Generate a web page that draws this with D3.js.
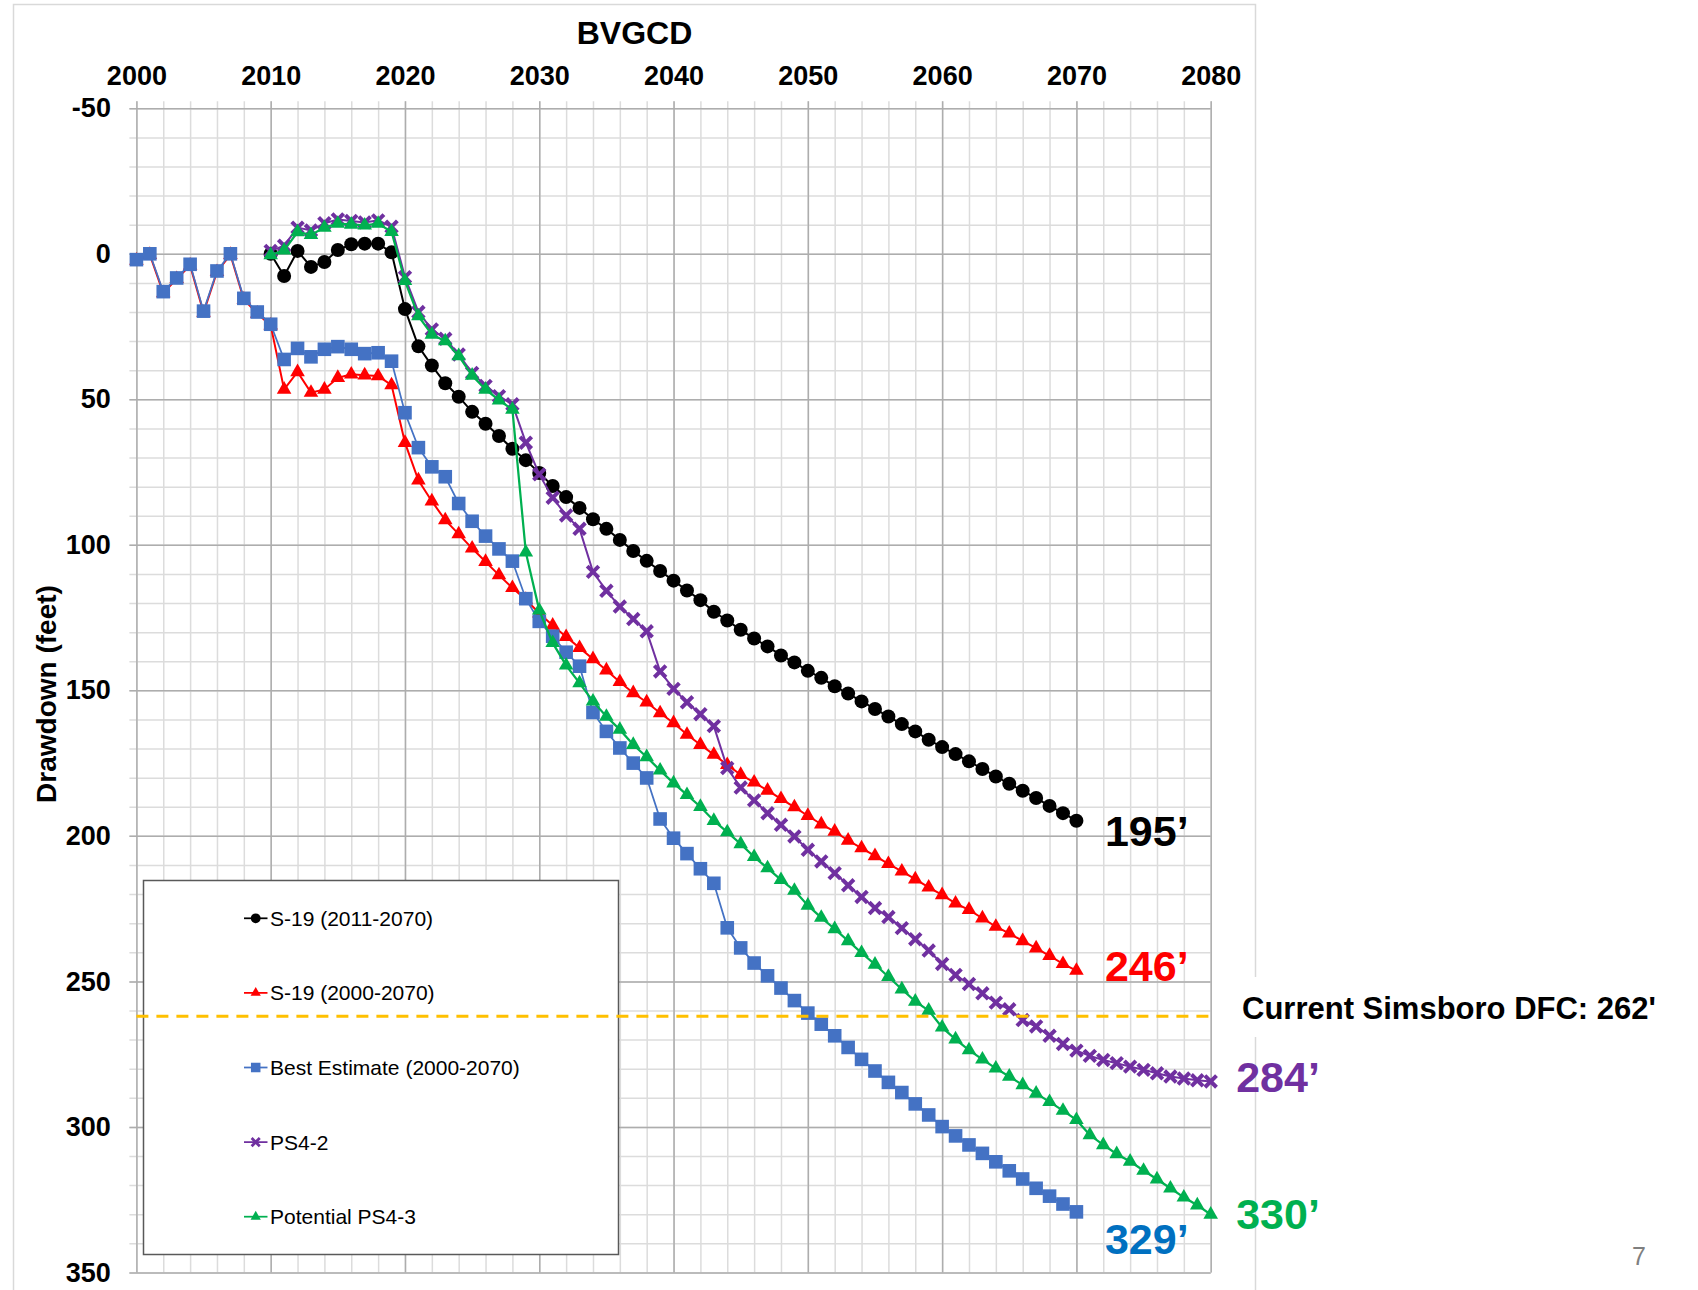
<!DOCTYPE html>
<html>
<head>
<meta charset="utf-8">
<script src="https://cdn.jsdelivr.net/npm/d3@7"></script>
<style>
  body { margin: 0; background: #fff; }
  text { font-family: "Liberation Sans", Arial, sans-serif; }
</style>
</head>
<body>
<div id="chart"></div>
<script>
const margin = { top: 108.3, left: 136.4 };
const width = 1074.3;
const height = 1164.1;

// axis ticks
const xTicks = [2000, 2010, 2020, 2030, 2040, 2050, 2060, 2070, 2080];
const yTicks = [-50, 0, 50, 100, 150, 200, 250, 300, 350];
const dfc = 262;

// drawdown (feet), one value per year
const s19Start = 2010; // S-19 (2011-2070)
const s19Values = [
  0, 7.6, -1.0, 4.5, 2.8, -1.3, -3.3, -3.5, -3.5, -0.5,
  19.0, 31.8, 38.4, 44.5, 49.1, 54.3, 58.4, 62.6, 67.0, 70.9,
  75.3, 79.8, 83.6, 87.3, 91.2, 94.5, 98.3, 102.1, 105.5, 109.0,
  112.3, 115.7, 119.0, 123.0, 126.0, 129.2, 132.2, 134.9, 138.0, 140.4,
  143.3, 145.7, 148.6, 151.1, 153.8, 156.4, 159.0, 161.6, 164.1, 167.0,
  169.5, 171.9, 174.4, 177.0, 179.6, 182.1, 184.5, 187.0, 189.7, 192.2,
  194.8
];

const s19LongStart = 2000; // S-19 (2000-2070)
const s19LongValues = [
  2.3, 0.3, 13.5, 8.6, 4.0, 20.2, 6.2, 0.3, 15.7, 20.5, 24.6,
  46.6, 40.6, 47.7, 46.6, 42.6, 41.4, 41.7, 42.0, 45.1,
  64.9, 77.8, 85.0, 91.5, 96.3, 101.2, 105.8, 110.4, 114.8, 118.8,
  123.5, 127.7, 131.6, 135.4, 139.2, 143.1, 147.1, 150.9, 154.1, 157.8,
  161.2, 165.2, 168.7, 172.1, 175.6, 179.0, 181.6, 184.4, 187.3, 190.1,
  193.1, 196.0, 198.5, 201.6, 204.2, 206.9, 209.6, 212.2, 214.9, 217.7,
  220.3, 223.2, 225.4, 228.3, 231.2, 233.5, 236.1, 238.6, 241.2, 244.0,
  246.3
];

const bestStart = 2000; // Best Estimate (2000-2070)
const bestValues = [
  2.0, 0, 13.0, 8.3, 3.6, 19.7, 5.9, 0, 15.3, 20.0, 24.2,
  36.3, 32.5, 35.4, 32.8, 31.9, 32.8, 34.3, 34.0, 36.9,
  54.6, 66.6, 73.2, 76.6, 85.8, 91.9, 97.0, 101.4, 105.6, 118.5,
  126.3, 131.4, 136.9, 141.7, 157.6, 164.1, 169.8, 175.0, 180.1, 194.2,
  200.8, 206.1, 211.3, 216.3, 231.6, 238.5, 243.7, 248.1, 252.3, 256.6,
  260.9, 264.7, 268.7, 272.7, 276.8, 280.8, 284.7, 288.2, 292.1, 295.9,
  299.9, 303.1, 306.2, 309.1, 312.0, 315.1, 317.9, 321.1, 323.8, 326.5,
  329.2
];

const ps42Start = 2010; // PS4-2
const ps42Values = [
  -1.0, -2.8, -9.0, -8.0, -10.5, -11.8, -11.3, -10.8, -11.5, -9.3,
  8.0, 20.0, 26.0, 29.2, 34.6, 40.9, 45.4, 48.9, 51.7, 64.9,
  75.8, 83.8, 89.9, 94.5, 109.3, 115.8, 121.2, 125.5, 129.7, 143.5,
  149.5, 154.1, 158.2, 162.3, 176.7, 183.4, 187.8, 192.2, 196.2, 200.2,
  204.8, 208.8, 212.8, 217.0, 221.0, 224.8, 227.9, 231.7, 235.5, 239.4,
  244.0, 247.8, 250.9, 254.1, 257.3, 259.6, 263.3, 265.5, 268.7, 271.5,
  273.8, 275.6, 277.0, 278.1, 279.3, 280.4, 281.6, 282.7, 283.4, 284.0,
  284.4
];

const ps43Start = 2010; // Potential PS4-3
const ps43Values = [
  0.4, -1.2, -7.5, -6.5, -9.0, -10.4, -10.1, -9.8, -10.4, -7.6,
  9.3, 21.4, 27.7, 30.0, 35.1, 41.8, 46.6, 50.3, 53.5, 102.6,
  122.5, 133.7, 141.4, 147.5, 153.8, 159.0, 163.5, 168.7, 172.9, 177.5,
  181.9, 185.9, 190.0, 194.8, 198.7, 202.8, 207.2, 211.1, 215.1, 218.8,
  223.9, 228.1, 232.0, 236.1, 240.2, 244.2, 248.4, 252.7, 256.9, 260.0,
  265.8, 269.9, 273.6, 276.8, 279.9, 282.7, 285.6, 288.5, 291.4, 294.4,
  297.6, 302.8, 306.2, 309.3, 311.9, 315.0, 318.0, 321.1, 324.2, 326.9,
  330.1
];

// labels at the end of each series, same order as the series
const endLabels = ['195’', '246’', '329’', '284’', '330’'];

const toPoints = (start, values) => values.map((v, i) => ({ year: start + i, value: v }));

const series = [
  { name: 'S-19 (2011-2070)', color: '#000000', marker: 'circle', width: 2, data: toPoints(s19Start, s19Values) },
  { name: 'S-19 (2000-2070)', color: '#FF0000', marker: 'triangle', width: 2, data: toPoints(s19LongStart, s19LongValues) },
  { name: 'Best Estimate (2000-2070)', color: '#4472C4', marker: 'square', width: 1.75, data: toPoints(bestStart, bestValues) },
  { name: 'PS4-2', color: '#7030A0', marker: 'x', width: 2, data: toPoints(ps42Start, ps42Values) },
  { name: 'Potential PS4-3', color: '#00B050', marker: 'triangle', width: 2.25, data: toPoints(ps43Start, ps43Values) }
];

const svg = d3.select('#chart')
  .append('svg')
  .attr('width', 1698)
  .attr('height', 1290);

// chart area frame
svg.append('rect')
  .attr('x', 13.5).attr('y', 4.5)
  .attr('width', 1242).attr('height', 1300)
  .attr('fill', 'none')
  .attr('stroke', '#D9D9D9')
  .attr('stroke-width', 1.5);

const x = d3.scaleLinear().domain([2000, 2080]).range([margin.left, margin.left + width]);
const y = d3.scaleLinear().domain([-50, 350]).range([margin.top, margin.top + height]);

// minor + major gridlines, sticking out 7px as tick marks
const grid = (ticksX, ticksY, color) => {
  svg.append('g')
    .attr('transform', `translate(0, ${margin.top - 7})`)
    .call(d3.axisTop(x).tickValues(ticksX).tickSize(-(height + 7)).tickFormat(''))
    .call(g => g.select('.domain').remove())
    .selectAll('line').attr('stroke', color).attr('stroke-width', 1.5);
  svg.append('g')
    .attr('transform', `translate(${margin.left - 7}, 0)`)
    .call(d3.axisLeft(y).tickValues(ticksY).tickSize(-(width + 7)).tickFormat(''))
    .call(g => g.select('.domain').remove())
    .selectAll('line').attr('stroke', color).attr('stroke-width', 1.5);
};
grid(d3.range(2000, 2081, 2), d3.range(-50, 351, 10), '#DCDCDC');
grid(xTicks, yTicks, '#ADADAD');

// tick labels
svg.append('g')
  .attr('transform', `translate(0, ${margin.top - 7})`)
  .call(d3.axisTop(x).tickValues(xTicks).tickSize(0).tickPadding(16).tickFormat(d => String(d)))
  .call(g => g.select('.domain').remove())
  .selectAll('text')
  .style('font-family', '"Liberation Sans", Arial, sans-serif')
  .style('font-size', '27px')
  .style('font-weight', 'bold')
  .attr('fill', '#000');

svg.append('g')
  .attr('transform', `translate(${margin.left - 7}, 0)`)
  .call(d3.axisLeft(y).tickValues(yTicks).tickSize(0).tickPadding(18.5).tickFormat(d => String(d)))
  .call(g => g.select('.domain').remove())
  .selectAll('text')
  .style('font-family', '"Liberation Sans", Arial, sans-serif')
  .style('font-size', '27px')
  .style('font-weight', 'bold')
  .attr('fill', '#000');

svg.append('text')
  .attr('x', 634.5).attr('y', 44)
  .attr('text-anchor', 'middle')
  .style('font-size', '32px').style('font-weight', 'bold')
  .text('BVGCD');

svg.append('text')
  .attr('transform', 'translate(56, 694) rotate(-90)')
  .attr('text-anchor', 'middle')
  .style('font-size', '28px').style('font-weight', 'bold')
  .text('Drawdown (feet)');

// markers
const drawMarker = (sel, type, color, k) => {
  if (type === 'circle') {
    sel.append('circle').attr('r', 7 * k).attr('fill', color);
  } else if (type === 'square') {
    sel.append('rect').attr('x', -6.8 * k).attr('y', -6.8 * k)
      .attr('width', 13.6 * k).attr('height', 13.6 * k).attr('fill', color);
  } else if (type === 'triangle') {
    sel.append('path').attr('d', d3.symbol(d3.symbolTriangle, 92 * k * k)()).attr('fill', color);
  } else {
    const s = 5.8 * k;
    sel.append('path').attr('d', `M${-s},${-s}L${s},${s}M${-s},${s}L${s},${-s}`)
      .attr('stroke', color).attr('stroke-width', 4 * k).attr('fill', 'none');
  }
};

const line = d3.line().x(d => x(d.year)).y(d => y(d.value));

series.forEach(s => {
  const g = svg.append('g');
  g.append('path')
    .datum(s.data)
    .attr('d', line)
    .attr('fill', 'none')
    .attr('stroke', s.color)
    .attr('stroke-width', s.width);
  g.selectAll('g.pt')
    .data(s.data)
    .join('g')
    .attr('class', 'pt')
    .attr('transform', d => `translate(${x(d.year)}, ${y(d.value)})`)
    .each(function() { drawMarker(d3.select(this), s.marker, s.color, 1); });
});

// legend
const legend = svg.append('g');
legend.append('rect')
  .attr('x', 143.5).attr('y', 880.5)
  .attr('width', 475).attr('height', 374)
  .attr('fill', '#fff')
  .attr('stroke', '#595959')
  .attr('stroke-width', 1.5);

const legendY = d3.scalePoint().domain(series.map(s => s.name)).range([918.3, 1216.7]);
series.forEach(s => {
  const ly = legendY(s.name);
  legend.append('line')
    .attr('x1', 244).attr('x2', 267.5).attr('y1', ly).attr('y2', ly)
    .attr('stroke', s.color).attr('stroke-width', 1.75);
  const m = legend.append('g').attr('transform', `translate(255.7, ${ly})`);
  drawMarker(m, s.marker, s.color, 0.7);
  legend.append('text')
    .attr('x', 270).attr('y', ly + 7.5)
    .style('font-size', '21px')
    .attr('fill', '#000')
    .text(s.name);
});

// DFC line
svg.append('line')
  .attr('x1', margin.left).attr('x2', margin.left + width)
  .attr('y1', y(dfc)).attr('y2', y(dfc))
  .attr('stroke', '#FFC000')
  .attr('stroke-width', 3)
  .attr('stroke-dasharray', '12,8');

svg.append('rect')
  .attr('x', 1240).attr('y', 977)
  .attr('width', 440).attr('height', 60)
  .attr('fill', '#fff');
svg.append('text')
  .attr('x', 1242).attr('y', 1018.5)
  .style('font-size', '31px').style('font-weight', 'bold')
  .text(`Current Simsboro DFC: ${dfc}'`);

// end labels
const endLabel = (i, color, dx, dy) => {
  const s = series[i];
  const last = s.data[s.data.length - 1];
  svg.append('text')
    .attr('x', x(last.year) + dx)
    .attr('y', y(last.value) + dy)
    .attr('fill', color)
    .style('font-size', '43px').style('font-weight', 'bold')
    .text(endLabels[i]);
};
endLabel(0, '#000000', 28.5, 25);
endLabel(1, '#FF0000', 28.5, 10.5);
endLabel(2, '#0070C0', 28.5, 42);
endLabel(3, '#7030A0', 25.5, 10.5);
endLabel(4, '#00B050', 25.5, 15);

svg.append('text')
  .attr('x', 1632).attr('y', 1265)
  .attr('fill', '#7F7F7F')
  .style('font-size', '25px')
  .text('7');
</script>
</body>
</html>
